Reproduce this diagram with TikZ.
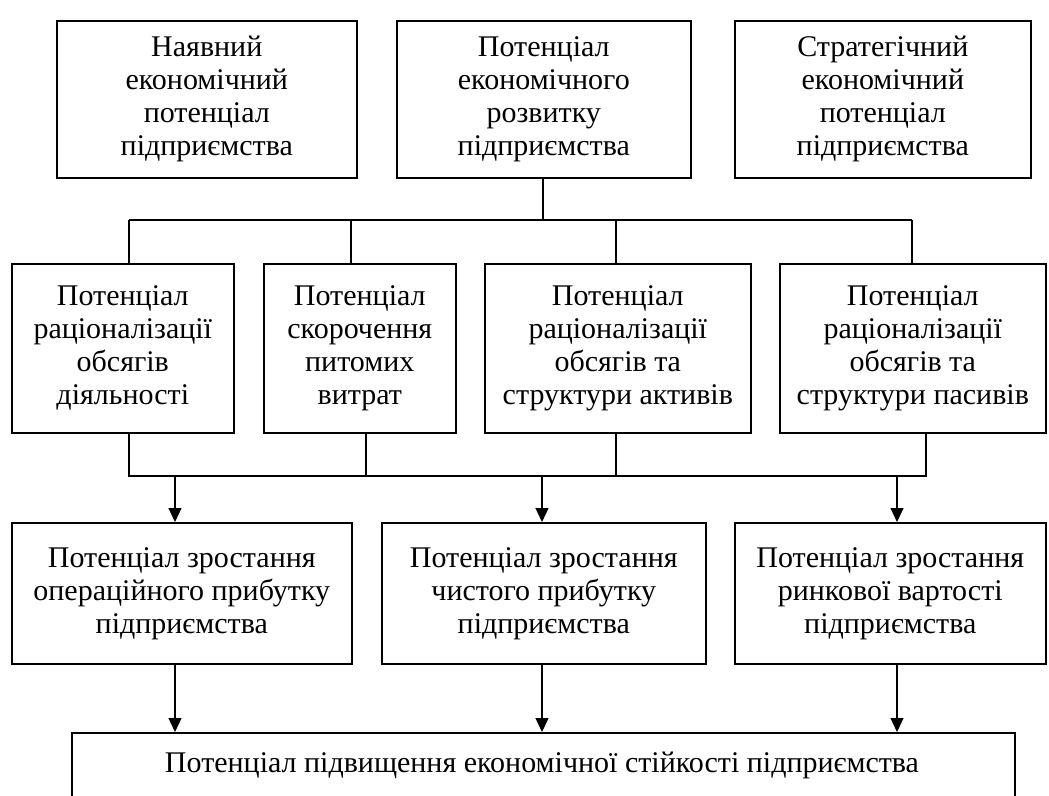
\documentclass[tikz,border=0pt]{standalone}
\usepackage{fontspec}
\setmainfont{Liberation Serif}
\usetikzlibrary{arrows.meta}
\begin{document}
\begin{tikzpicture}[x=1pt,y=-1pt,
  txt/.style={font=\fontsize{30}{33}\selectfont},
  box/.style={draw, line width=1.6pt, rectangle, anchor=north west, align=center, inner sep=0pt, txt},
  conn/.style={line width=1.2pt},
  arr/.style={line width=1.2pt, -{Triangle[length=14pt,width=13pt]}}]
\useasboundingbox (0,0) rectangle (1049,795);
\clip (0,0) rectangle (1049,795);
% top row
\node[box, minimum width=300, minimum height=157] (t1) at (56,20) {\raisebox{5pt}{\begin{tabular}{@{}c@{}}Наявний\\економічний\\потенціал\\підприємства\end{tabular}}};
\node[box, minimum width=294, minimum height=157] (t2) at (396,20) {\raisebox{5pt}{\begin{tabular}{@{}c@{}}Потенціал\\економічного\\розвитку\\підприємства\end{tabular}}};
\node[box, minimum width=296, minimum height=157] (t3) at (734,20) {\raisebox{5pt}{\begin{tabular}{@{}c@{}}Стратегічний\\економічний\\потенціал\\підприємства\end{tabular}}};
% second row
\node[box, minimum width=222, minimum height=169] (a) at (11,263) {Потенціал\\раціоналізації\\обсягів\\діяльності};
\node[box, minimum width=192, minimum height=169] (b) at (263,263) {Потенціал\\скорочення\\питомих\\витрат};
\node[box, minimum width=266, minimum height=169] (c) at (484,263) {Потенціал\\раціоналізації\\обсягів та\\структури активів};
\node[box, minimum width=266, minimum height=169] (d) at (779,263) {Потенціал\\раціоналізації\\обсягів та\\структури пасивів};
% third row
\node[box, minimum width=340, minimum height=141] (e) at (11,522) {Потенціал зростання\\операційного прибутку\\підприємства};
\node[box, minimum width=324, minimum height=141] (f) at (381,522) {Потенціал зростання\\чистого прибутку\\підприємства};
\node[box, minimum width=311, minimum height=141] (g) at (734,522) {Потенціал зростання\\ринкової вартості\\підприємства};
% bottom box
\node[draw, line width=1.6pt, rectangle, anchor=north west, minimum width=943, minimum height=140, inner sep=0pt] (bot) at (71,732) {};
\node[txt, anchor=base, inner sep=0pt] (bottxt) at (542,772) {Потенціал підвищення економічної стійкості підприємства};
% upper connectors
\coordinate (j0) at (543,220);
\coordinate (h1) at (129,220);
\coordinate (h2) at (351,220);
\coordinate (h3) at (616,220);
\coordinate (h4) at (912,220);
\draw[conn] (t2.south -| j0) -- (j0);
\draw[conn] (h1) -- (h4);
\draw[conn] (h1) -- (h1 |- a.north);
\draw[conn] (h2) -- (h2 |- b.north);
\draw[conn] (h3) -- (h3 |- c.north);
\draw[conn] (h4) -- (h4 |- d.north);
% lower collector
\coordinate (k1) at (129,476);
\coordinate (k2) at (366,476);
\coordinate (k3) at (616,476);
\coordinate (k4) at (926,476);
\draw[conn] (k1 |- a.south) -- (k1) -- (k4) -- (k4 |- d.south);
\draw[conn] (k2 |- b.south) -- (k2);
\draw[conn] (k3 |- c.south) -- (k3);
\coordinate (m1) at (175,476);
\coordinate (m2) at (542,476);
\coordinate (m3) at (897,476);
\draw[arr] (m1) -- (m1 |- e.north);
\draw[arr] (m2) -- (m2 |- f.north);
\draw[arr] (m3) -- (m3 |- g.north);
% to bottom box
\draw[arr] (m1 |- e.south) -- (m1 |- bot.north);
\draw[arr] (m2 |- f.south) -- (m2 |- bot.north);
\draw[arr] (m3 |- g.south) -- (m3 |- bot.north);
\end{tikzpicture}
\end{document}
